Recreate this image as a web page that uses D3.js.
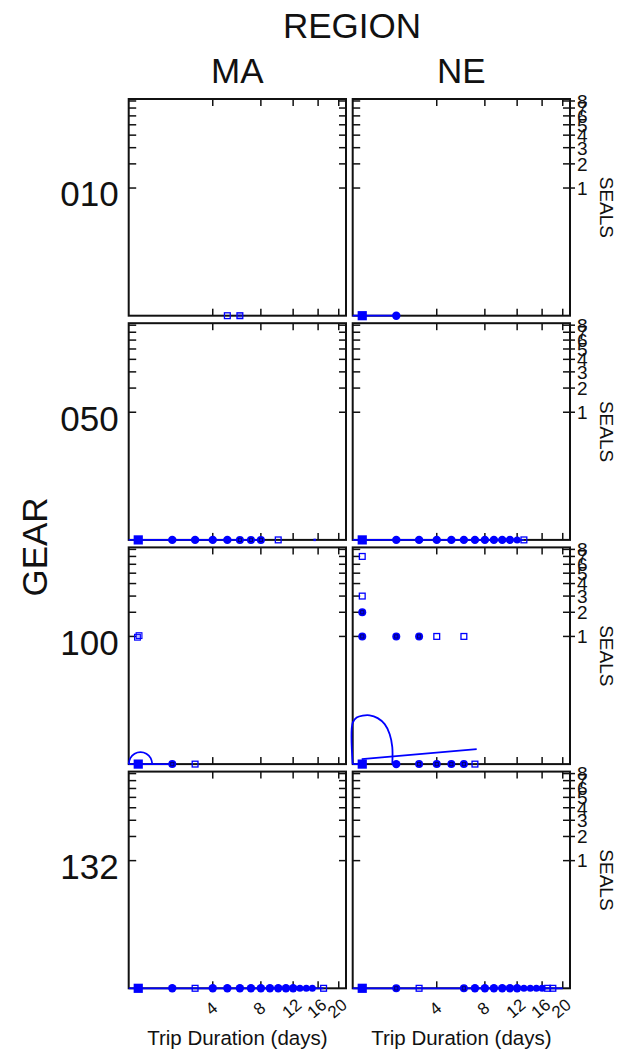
<!DOCTYPE html>
<html><head><meta charset="utf-8">
<script src="https://cdn.jsdelivr.net/npm/d3@7"></script>
<style>body{margin:0;background:#fff} svg text{font-family:"Liberation Sans",Arial,sans-serif;fill:#111}</style>
</head><body><svg id="c" width="620" height="1053"></svg>
<script>
// ---------- data ----------
const regions = ["MA", "NE"];
const gears = ["010", "050", "100", "132"];
const xTicks = [4, 8, 12, 16, 20];
const yTicks = [1, 2, 3, 4, 5, 6, 7, 8];
const xDomain = [0.804, 21.57];
const yDomain = [0, 8.3];

// points: [trip days, seals, marker kind]
const pointsMA010 = [[5,0,"S"],[6,0,"SL"]];
const pointsNE010 = [[1,0,"B"],[2,0,"D"]];
const pointsMA050 = [[1,0,"B"],[2,0,"D"],[3,0,"D"],[4,0,"D"],[5,0,"D"],[6,0,"R"],[7,0,"R"],[8,0,"R"],[10,0,"S"],[15.4,0,"T"]];
const pointsNE050 = [[1,0,"B"],[2,0,"D"],[3,0,"D"],[4,0,"D"],[5,0,"D"],[6,0,"D"],[7,0,"D"],[8,0,"D"],[9,0,"D"],[10,0,"D"],[11,0,"D"],[12,0,"d"],[13,0,"S"]];
const pointsMA100 = [[1,0,"B"],[2,0,"R"],[3,0,"S"],[1,1,"S2"]];
const pointsNE100 = [[1,0,"B"],[2,0,"D"],[3,0,"R"],[4,0,"R"],[5,0,"R"],[6,0,"R"],[7,0,"S"],
                     [1,1,"R"],[2,1,"R"],[3,1,"R"],[4,1,"S"],[6,1,"S"],[1,2,"R"],[1,3,"S"],[1,7,"S"]];
const pointsMA132 = [[1,0,"B"],[2,0,"D"],[3,0,"S"],[4,0,"D"],[5,0,"D"],[6,0,"D"],[7,0,"D"],[8,0,"D"],[9,0,"D"],[10,0,"D"],[11,0,"D"],[12,0,"D"],[13,0,"d"],[14,0,"d"],[15,0,"d"],[17,0,"S"]];
const pointsNE132 = [[1,0,"B"],[2,0,"R"],[3,0,"S"],[6,0,"R"],[7,0,"D"],[8,0,"D"],[9,0,"D"],[10,0,"D"],[11,0,"D"],[12,0,"D"],[13,0,"d"],[14,0,"d"],[15,0,"d"],[16,0,"d"],[17,0,"S"],[18,0,"S"]];

// smoother curves: [trip days, seals]
const smoothMA010 = [];
const smoothNE010 = [[[0.804,0],[2,0]]];
const smoothMA050 = [[[0.804,0],[8,0]]];
const smoothNE050 = [[[0.804,0],[13,0]]];
const smoothMA100 = [[[0.804,0],[2,0]],
  [[0.804,0],[0.835,0.0000049],[0.921,0.000044],[1.051,0.000078],[1.194,0.000044],[1.307,0.0000049],[1.351,0]]];
const smoothNE100 = [[[0.804,0],[1,0]],
  [[0.804,0],[0.804,0.0111],[0.882,0.0176],[1.010,0.0208],[1.176,0.0213],[1.390,0.0168],[1.601,0.0096],[1.765,0.0030],[1.855,0.00031],[1.855,0]],
  [[0.988,0.0000024],[7.17,0.00019]]];
const smoothMA132 = [[[0.804,0],[17,0]]];
const smoothNE132 = [[[0.804,0],[20,0]]];

const panelPoints = {MA:{"010":pointsMA010,"050":pointsMA050,"100":pointsMA100,"132":pointsMA132},
                     NE:{"010":pointsNE010,"050":pointsNE050,"100":pointsNE100,"132":pointsNE132}};
const panelSmooth = {MA:{"010":smoothMA010,"050":smoothMA050,"100":smoothMA100,"132":smoothMA132},
                     NE:{"010":smoothNE010,"050":smoothNE050,"100":smoothNE100,"132":smoothNE132}};

// ---------- layout ----------
const left0 = 128.7, colStep = 224, panelW = 217.3;
const top0 = 99, rowStep = 224.2, panelH = 216.7;
const blue = "#0000ff";

const svg = d3.select("#c");
const x = d3.scalePow().exponent(0.25).domain(xDomain).range([0, panelW]);
const y = d3.scalePow().exponent(0.25).domain(yDomain).range([panelH, 0]);
const line = d3.line().x(d => x(d[0])).y(d => y(d[1])).curve(d3.curveCatmullRom.alpha(0.5));

function mark(g, px, py, k) {
  if (k === "B") g.append("rect").attr("x", px-4.6).attr("y", py-4.6).attr("width", 9.2).attr("height", 9.2).attr("fill", blue);
  else if (k === "D") g.append("circle").attr("cx", px).attr("cy", py).attr("r", 4.2).attr("fill", blue);
  else if (k === "d") g.append("circle").attr("cx", px).attr("cy", py).attr("r", 3.5).attr("fill", blue);
  else if (k === "R") {
    g.append("circle").attr("cx", px).attr("cy", py).attr("r", 4).attr("fill", blue);
    g.append("rect").attr("x", px-1.6).attr("y", py-1.6).attr("width", 3.2).attr("height", 3.2).attr("fill", "none").attr("stroke", "#00006a").attr("stroke-width", 0.9);
  }
  else if (k === "S" || k === "SL") g.append("rect").attr("x", px-2.9).attr("y", py-2.9).attr("width", 5.8).attr("height", 5.8)
      .attr("fill", k === "SL" ? "rgba(0,0,255,0.35)" : "none").attr("stroke", blue).attr("stroke-width", 1.3);
  else if (k === "S2") {
    [[-0.8,0.8],[0.8,-0.8]].forEach(o => g.append("rect").attr("x", px-2.9+o[0]).attr("y", py-2.9+o[1]).attr("width", 5.8).attr("height", 5.8)
      .attr("fill", "rgba(0,0,255,0.15)").attr("stroke", blue).attr("stroke-width", 1.1));
  }
  else if (k === "T") g.append("rect").attr("x", px-1.2).attr("y", py-1.2).attr("width", 2.4).attr("height", 2.4).attr("fill", blue);
}

gears.forEach((gear, ri) => {
  regions.forEach((reg, ci) => {
    const g = svg.append("g").attr("transform", `translate(${left0 + ci*colStep},${top0 + ri*rowStep})`);
    // ticks
    xTicks.forEach(t => {
      g.append("line").attr("x1", x(t)).attr("x2", x(t)).attr("y1", 0).attr("y2", 7).attr("stroke", "#111").attr("stroke-width", 1.5);
      g.append("line").attr("x1", x(t)).attr("x2", x(t)).attr("y1", panelH).attr("y2", panelH-7).attr("stroke", "#111").attr("stroke-width", 1.5);
    });
    yTicks.forEach(t => {
      g.append("line").attr("x1", 0).attr("x2", 7.5).attr("y1", y(t)).attr("y2", y(t)).attr("stroke", "#111").attr("stroke-width", 1.5);
      g.append("line").attr("x1", panelW - 7).attr("x2", panelW + (ci === 1 ? 5 : 0)).attr("y1", y(t)).attr("y2", y(t)).attr("stroke", "#111").attr("stroke-width", 1.5);
    });
    g.append("rect").attr("width", panelW).attr("height", panelH).attr("fill", "none").attr("stroke", "#111").attr("stroke-width", 2);
    // smoothers
    panelSmooth[reg][gear].forEach(s => g.append("path").attr("d", line(s)).attr("fill", "none").attr("stroke", blue).attr("stroke-width", 1.8));
    // points
    panelPoints[reg][gear].forEach(p => mark(g, x(p[0]), y(p[1]), p[2]));
    // right axis labels
    if (ci === 1) {
      yTicks.forEach(t => g.append("text").attr("x", panelW + 7).attr("y", y(t)).attr("dy", "0.36em").attr("font-size", 19).text(t));
      g.append("text").attr("transform", `translate(${panelW + 37},${panelH/2}) rotate(90)`).attr("text-anchor", "middle")
        .attr("dy", "0.35em").attr("font-size", 19).text("SEALS");
    }
    // bottom axis labels
    if (ri === gears.length - 1) {
      xTicks.forEach(t => g.append("text").attr("transform", `translate(${x(t) - 1.5},${panelH + 20}) rotate(-40)`)
        .attr("text-anchor", "middle").attr("dy", "0.35em").attr("font-size", 17).text(t));
      g.append("text").attr("x", panelW/2).attr("y", panelH + 57).attr("text-anchor", "middle").attr("font-size", 20.5).text("Trip Duration (days)");
    }
    if (ri === 0) {
      g.append("text").attr("x", panelW/2).attr("y", -16).attr("text-anchor", "middle").attr("font-size", 35).text(reg);
    }
    if (ci === 0) {
      g.append("text").attr("x", -10).attr("y", panelH/2 - 1).attr("text-anchor", "end").attr("font-size", 35).text(gear);
    }
  });
});
svg.append("text").attr("x", 352).attr("y", 38).attr("text-anchor", "middle").attr("font-size", 35).text("REGION");
svg.append("text").attr("transform", "translate(47,547) rotate(-90)").attr("text-anchor", "middle").attr("font-size", 35).text("GEAR");
</script></body></html>
